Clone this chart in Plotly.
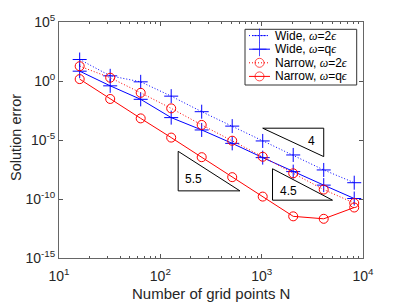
import plotly.graph_objects as go

# ---------------- data ----------------
N = [16, 32, 64, 128, 256, 512, 1024, 2048, 4096, 8192]
wide_2eps = [66, 2.75, 0.85, 5.2e-2, 2.5e-3, 1.5e-4, 8.3e-6, 5.4e-7, 2.9e-8, 2.4e-9]
wide_qeps = [6.8, 0.39, 2.8e-2, 7.9e-4, 7.1e-5, 5.2e-6, 3.2e-7, 2.1e-8, 1.5e-9, 1.1e-10]
narrow_2eps = [18, 1.9, 0.10, 4.8e-3, 1.9e-4, 8.7e-6, 3.8e-7, 1.5e-8, 6.3e-10, 4.5e-11]
narrow_qeps = [1.45, 3.0e-2, 6.8e-4, 1.6e-5, 3.5e-7, 7.1e-9, 1.6e-10, 3.4e-12, 2.1e-12, 1.9e-11]

# slope triangles
tri_4_x = [1024, 4096, 4096, 1024]
tri_4_y = [1e-4, 1e-4, 1e-4 / 4 ** 4, 1e-4]
tri_45_x = [1280, 1280, 5000, 1280]
tri_45_y = [10 ** -10.1 * (5000 / 1280) ** 4.5, 10 ** -10.1, 10 ** -10.1, 10 ** -10.1 * (5000 / 1280) ** 4.5]
tri_55_x = [150, 150, 610, 150]
tri_55_y = [10 ** -9.31 * (610 / 150) ** 5.5, 10 ** -9.31, 10 ** -9.31, 10 ** -9.31 * (610 / 150) ** 5.5]
tri_labels = ["4", "4.5", "5.5"]
tri_label_pos = [(3.495, -5.06), (3.262, -9.31), (2.326, -8.32)]  # log10 coords

x_ticks = [10, 100, 1000, 10000]
x_ticktext = ["10<sup>1</sup>", "10<sup>2</sup>", "10<sup>3</sup>", "10<sup>4</sup>"]
y_ticks = [1e5, 1, 1e-5, 1e-10, 1e-15]
y_ticktext = ["10<sup>5</sup>", "10<sup>0</sup>", "10<sup>-5</sup>", "10<sup>-10</sup>", "10<sup>-15</sup>"]

BLUE = "rgb(0,0,255)"
RED = "rgb(255,0,0)"
FONT = "Liberation Sans, Arial, sans-serif"
TXT = "#262626"
DOT = "1px,2px"

series = [
    ("Wide", "2", wide_2eps, BLUE, DOT, "cross-thin"),
    ("Wide", "q", wide_qeps, BLUE, "solid", "cross-thin"),
    ("Narrow", "2", narrow_2eps, RED, DOT, "circle-open"),
    ("Narrow", "q", narrow_qeps, RED, "solid", "circle-open"),
]

fig = go.Figure()
for name, w, ys, col, dash, sym in series:
    fig.add_trace(go.Scatter(
        x=N, y=ys, mode="lines+markers",
        line=dict(color=col, width=1, dash=dash),
        marker=dict(symbol=sym, size=10 if "cross" in sym else 9,
                    color=col, line=dict(color=col, width=1)),
        showlegend=False,
    ))

for tx, ty in [(tri_4_x, tri_4_y), (tri_45_x, tri_45_y), (tri_55_x, tri_55_y)]:
    fig.add_trace(go.Scatter(x=tx, y=ty, mode="lines",
                             line=dict(color="black", width=1),
                             showlegend=False, hoverinfo="skip"))

for lab, (lx, ly) in zip(tri_labels, tri_label_pos):
    fig.add_annotation(x=lx, y=ly, xref="x", yref="y", text=lab, showarrow=False,
                       font=dict(family=FONT, size=12, color="black"))

# ---------------- geometry (page has an 8px body margin) ----------------
OFF = 8
L, R, T, B = 59, 363, 22, 258          # target pixel box in the window
W, H = 402 - OFF, 302 - OFF
def px(x):
    return (x - L) / (R - L)
def py(y):
    return 1 - (y - T) / (B - T)

fig.add_shape(type="rect", xref="paper", yref="paper",
              x0=px(245), x1=px(356.7), y0=py(29.3), y1=py(85),
              line=dict(color="#333333", width=1), fillcolor="white", layer="below")

rows_y = [35.6, 49.2, 62.8, 76.4]
for (name, w, ys, col, dash, sym), ry in zip(series, rows_y):
    fig.add_trace(go.Scatter(
        x=[249, 259.5, 270], y=[ry, ry, ry], xaxis="x2", yaxis="y2",
        mode="lines+markers",
        line=dict(color=col, width=1, dash=dash),
        marker=dict(symbol=sym, size=[0, 10 if "cross" in sym else 9, 0],
                    color=col, line=dict(color=col, width=1)),
        showlegend=False, hoverinfo="skip", cliponaxis=False,
    ))
    txt = (f"{name}, <span style='font-family:Liberation Serif'><i>ω</i></span>="
           f"{w}<span style='font-family:Liberation Serif'><i>ϵ</i></span>")
    fig.add_annotation(x=px(273), y=py(ry), xref="paper", yref="paper",
                       xanchor="left", yanchor="middle", text=txt, showarrow=False,
                       font=dict(family=FONT, size=12, color="black"))

# axis titles as annotations
fig.add_annotation(x=px(211), y=py(293), xref="paper", yref="paper",
                   text="Number of grid points N", showarrow=False,
                   xanchor="center", yanchor="middle",
                   font=dict(family=FONT, size=15, color=TXT))
fig.add_annotation(x=px(16), y=py(138), xref="paper", yref="paper",
                   text="Solution error", showarrow=False, textangle=-90,
                   xanchor="center", yanchor="middle",
                   font=dict(family=FONT, size=14.5, color=TXT))

# ---------------- axes ----------------
minor_x = [v * 10 ** e for e in range(1, 4) for v in range(2, 10)]
fig.update_layout(
    xaxis=dict(
        type="log", range=[1, 4], tickvals=x_ticks, ticktext=x_ticktext,
        ticks="inside", ticklen=4, tickcolor="#555", showline=True, linecolor="#666",
        linewidth=1, mirror="ticks", showgrid=False, zeroline=False, automargin=False,
        ticklabelstandoff=5,
        tickfont=dict(family=FONT, size=14, color=TXT),
        minor=dict(tickvals=minor_x, ticks="inside", ticklen=2, tickcolor="#555", showgrid=False),
    ),
    yaxis=dict(
        type="log", range=[-15, 5], tickvals=y_ticks, ticktext=y_ticktext,
        ticks="inside", ticklen=4, tickcolor="#555", showline=True, linecolor="#666",
        linewidth=1, mirror="ticks", showgrid=False, zeroline=False, automargin=False,
        tickfont=dict(family=FONT, size=14, color=TXT),
    ),
    xaxis2=dict(overlaying="x", range=[L, R], visible=False, type="linear", automargin=False),
    yaxis2=dict(overlaying="y", range=[B, T], visible=False, type="linear", automargin=False),
    width=W, height=H,
    margin=dict(l=L - OFF, r=W - (R - OFF), t=T - OFF, b=H - (B - OFF), autoexpand=False),
    plot_bgcolor="white", paper_bgcolor="white",
    showlegend=False,
)

fig.write_html("out.html")
